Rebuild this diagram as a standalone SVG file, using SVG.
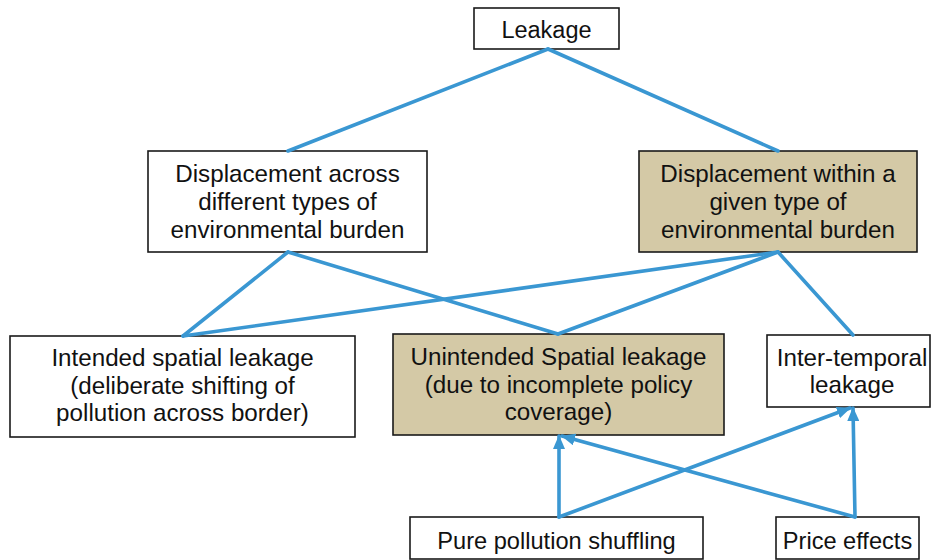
<svg xmlns="http://www.w3.org/2000/svg" width="932" height="560" viewBox="0 0 932 560">
<style>
.box{fill:#ffffff;stroke:#1a1a1a;stroke-width:1.6}
.tan{fill:#d4c9a6}
.t{font-family:"Liberation Sans",Arial,sans-serif;font-size:24.2px;fill:#111;text-anchor:middle}
.c{stroke:#3a97d2;stroke-width:3.6;fill:none;stroke-linecap:round}
</style>
<defs>
<marker id="ah" markerUnits="userSpaceOnUse" markerWidth="14" markerHeight="12" refX="13" refY="6" orient="auto">
<path d="M0,0 L14,6 L0,12 Z" fill="#3a97d2"/>
</marker>
</defs>
<rect width="932" height="560" fill="#ffffff"/>
<g id="n-leakage"><rect class="box" x="474" y="8" width="145" height="41"/><text class="t" x="546.5" y="38" style="font-size:23.5px">Leakage</text></g>
<g id="n-across"><rect class="box" x="148" y="151" width="279" height="101"/><text class="t" x="287.5" y="182">Displacement across</text><text class="t" x="287.5" y="210">different types of</text><text class="t" x="287.5" y="238">environmental burden</text></g>
<g id="n-within"><rect class="box tan" x="639" y="151" width="278" height="101"/><text class="t" x="778" y="182">Displacement within a</text><text class="t" x="778" y="210">given type of</text><text class="t" x="778" y="238">environmental burden</text></g>
<g id="n-intended"><rect class="box" x="10" y="336" width="345" height="101"/><text class="t" x="182.5" y="366">Intended spatial leakage</text><text class="t" x="182.5" y="394">(deliberate shifting of</text><text class="t" x="182.5" y="421">pollution across border)</text></g>
<g id="n-unintended"><rect class="box tan" x="393" y="334" width="331" height="101"/><text class="t" x="558.5" y="365">Unintended Spatial leakage</text><text class="t" x="558.5" y="393">(due to incomplete policy</text><text class="t" x="558.5" y="420">coverage)</text></g>
<g id="n-intertemporal"><rect class="box" x="767" y="335" width="163" height="72"/><text class="t" x="852" y="366">Inter-temporal</text><text class="t" x="852" y="393">leakage</text></g>
<g id="n-pure"><rect class="box" x="410" y="517" width="293" height="42"/><text class="t" x="556.5" y="549" style="font-size:23.6px">Pure pollution shuffling</text></g>
<g id="n-price"><rect class="box" x="776" y="517" width="143" height="42"/><text class="t" x="847.5" y="549" style="font-size:23.6px">Price effects</text></g>
<g id="connectors">
<line class="c" x1="548" y1="49" x2="288" y2="151"/>
<line class="c" x1="548" y1="49" x2="778" y2="151"/>
<line class="c" x1="288" y1="252" x2="183" y2="336"/>
<line class="c" x1="288" y1="252" x2="558" y2="334"/>
<line class="c" x1="778" y1="252" x2="183" y2="336"/>
<line class="c" x1="778" y1="252" x2="558" y2="334"/>
<line class="c" x1="778" y1="252" x2="853" y2="335"/>
<line class="c" x1="559" y1="517" x2="559" y2="436" marker-end="url(#ah)"/>
<line class="c" x1="559" y1="517" x2="850" y2="408" marker-end="url(#ah)"/>
<line class="c" x1="855" y1="517" x2="562" y2="436" marker-end="url(#ah)"/>
<line class="c" x1="855" y1="517" x2="853" y2="408" marker-end="url(#ah)"/>
</g>
</svg>
